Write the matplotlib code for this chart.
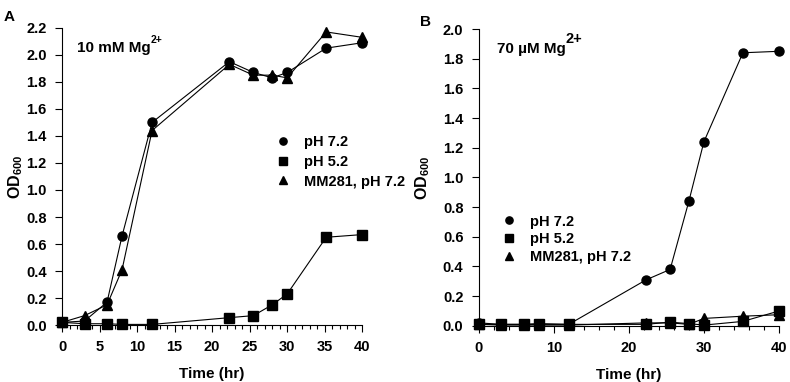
import numpy as np
import matplotlib
matplotlib.use("Agg")
import matplotlib.pyplot as plt
from matplotlib.ticker import MultipleLocator

plt.rcParams['font.family'] = ['Liberation Sans', 'DejaVu Sans']
plt.rcParams['font.weight'] = 'bold'
plt.rcParams['mathtext.fontset'] = 'custom'
plt.rcParams['mathtext.rm'] = 'Liberation Sans:bold'
plt.rcParams['mathtext.bf'] = 'Liberation Sans:bold'

# Time points (hr)
t = [0, 3, 6, 8, 12, 22.3, 25.5, 28, 30, 35.2, 40]

# Panel A: 10 mM Mg2+
a_ph72 = [0.02, 0.03, 0.17, 0.66, 1.50, 1.95, 1.87, 1.83, 1.87, 2.05, 2.09]
a_ph52 = [0.02, 0.01, 0.01, 0.005, 0.005, 0.055, 0.07, 0.15, 0.23, 0.65, 0.67]
a_mm281 = [0.02, 0.07, 0.15, 0.41, 1.44, 1.93, 1.85, 1.85, 1.83, 2.17, 2.13]

# Panel B: 70 uM Mg2+
b_ph72 = [0.02, 0.01, 0.01, 0.015, 0.01, 0.31, 0.38, 0.84, 1.24, 1.84, 1.85]
b_ph52 = [0.01, 0.01, 0.01, 0.01, 0.01, 0.01, 0.025, 0.015, 0.005, 0.03, 0.10]
b_mm281 = [0.01, 0.005, 0.005, 0.005, 0.005, 0.02, 0.02, 0.01, 0.05, 0.065, 0.075]

labels = ['pH 7.2', 'pH 5.2', 'MM281, pH 7.2']
markers = ['o', 's', '^']

fig = plt.figure(figsize=(7.9, 3.82), dpi=100)
axA = fig.add_axes([0.0785, 0.149, 0.380, 0.778])
axB = fig.add_axes([0.606, 0.147, 0.380, 0.777])


def style(ax, ymax, xmaj, xmin, ylab_x):
    ax.set_xlim(0, 40)
    ax.set_ylim(0, ymax)
    ax.spines['top'].set_visible(False)
    ax.spines['right'].set_visible(False)
    ax.xaxis.set_major_locator(MultipleLocator(xmaj))
    ax.xaxis.set_minor_locator(MultipleLocator(xmin))
    ax.yaxis.set_major_locator(MultipleLocator(0.2))
    ax.tick_params(axis='both', which='major', direction='out', length=5, width=0.8, labelsize=10.5, pad=6)
    ax.tick_params(axis='x', which='minor', direction='out', length=3, width=0.8)
    ax.set_yticklabels(['%.1f' % v for v in ax.get_yticks()])
    ax.set_xlabel('Time (hr)', fontsize=11, fontweight='bold', labelpad=9)
    ax.set_ylabel(r'OD$_{600}$', fontsize=11.5, fontweight='bold')
    ax.yaxis.set_label_coords(ylab_x, 0.5)


for ax, series in [(axA, [a_ph72, a_ph52, a_mm281]), (axB, [b_ph72, b_ph52, b_mm281])]:
    for y, m, lab in zip(series, markers, labels):
        ax.plot(t, y, color='black', marker=m, markersize=6.5, linewidth=0.8,
                label=lab, clip_on=False, zorder=3)

style(axA, 2.2, 5, 1, -0.123)
style(axB, 2.0, 10, 2, -0.155)

axA.legend(loc='upper left', bbox_to_anchor=(0.713, 0.638), frameon=False, fontsize=10.5,
           handlelength=1.0, handletextpad=0.9, labelspacing=0.38, borderpad=0,
           borderaxespad=0, markerscale=0.8)
axB.legend(loc='upper left', bbox_to_anchor=(0.077, 0.375), frameon=False, fontsize=10.5,
           handlelength=1.0, handletextpad=0.9, labelspacing=0.25, borderpad=0,
           borderaxespad=0, markerscale=0.8)
for ax in (axA, axB):
    for line in ax.get_legend().get_lines():
        line.set_linestyle('none')

tA = axA.text(0.05, 0.955, '10 mM Mg', transform=axA.transAxes, fontsize=11, fontweight='bold', va='top')
axA.annotate('2+', xy=(1.0, 0.7), xycoords=tA, fontsize=7.5, fontweight='bold', va='bottom', ha='left')
tB = axB.text(0.06, 0.955, '70 µM Mg', transform=axB.transAxes, fontsize=11, fontweight='bold', va='top')
axB.annotate('2+', xy=(1.0, 0.75), xycoords=tB, fontsize=10.5, fontweight='bold', va='bottom', ha='left')

fig.text(0.005, 0.975, 'A', fontsize=11, fontweight='bold', va='top')
fig.text(0.532, 0.96, 'B', fontsize=11, fontweight='bold', va='top')

fig.savefig('out.png', dpi=100)
